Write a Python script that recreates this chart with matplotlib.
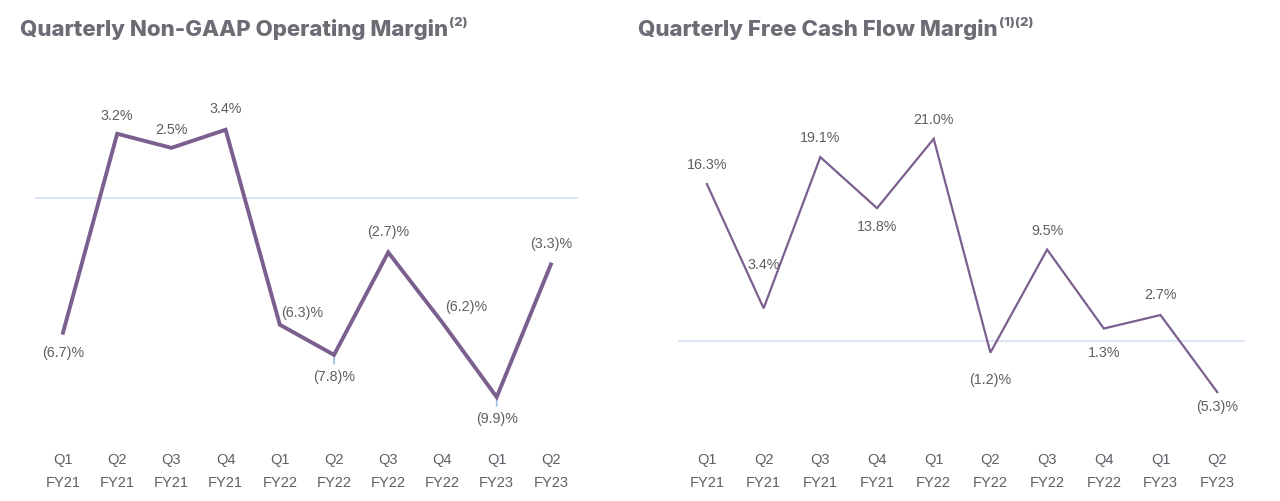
import matplotlib
matplotlib.use("Agg")
import matplotlib.pyplot as plt

quarters = ["Q1\nFY21", "Q2\nFY21", "Q3\nFY21", "Q4\nFY21", "Q1\nFY22",
            "Q2\nFY22", "Q3\nFY22", "Q4\nFY22", "Q1\nFY23", "Q2\nFY23"]
op_margin = [-6.7, 3.2, 2.5, 3.4, -6.3, -7.8, -2.7, -6.2, -9.9, -3.3]
fcf_margin = [16.3, 3.4, 19.1, 13.8, 21.0, -1.2, 9.5, 1.3, 2.7, -5.3]

# label offsets in pixels (dx, dy)
op_offsets = [(0, -20), (0, 18), (0, 18), (0, 21), (22, 12), (0, -22), (0, 20), (24, 16), (0, -22), (0, 20)]
fcf_offsets = [(0, 19), (0, 43), (0, 19), (0, -19), (0, 19), (0, -27), (0, 19), (0, -24), (0, 20), (0, -15)]
# points with a small hover tick below them (left chart)
op_hover = [5, 8]

def fmt(v):
    return f"({abs(v):.1f})%" if v < 0 else f"{v:.1f}%"

W, H = 1280, 501
fig = plt.figure(figsize=(W / 100, H / 100), dpi=100)
fig.patch.set_facecolor("white")

line_col = "#7b5f8f"
zero_col = "#d5e3f6"
hover_col = "#9cc0f0"
txt_col = "#5e5e66"
title_col = "#6c6c75"
label_font = ["Liberation Sans", "DejaVu Sans"]
title_font = ["Inter", "DejaVu Sans"]

def make_axes(px_left, px_right, px_top, px_bottom):
    return fig.add_axes([px_left / W, (H - px_bottom) / H,
                         (px_right - px_left) / W, (px_bottom - px_top) / H])

def draw(ax, vals, offsets, xlim, ylim, lw, ticks, hover=()):
    x = list(range(len(vals)))
    ax.axhline(0, color=zero_col, lw=1.3, zorder=1)
    ax.plot(x, vals, color=line_col, lw=lw, solid_joinstyle="miter", zorder=3)
    for i in hover:
        ax.annotate("", (x[i], vals[i]), xytext=(0, -9), textcoords="offset pixels",
                    arrowprops=dict(arrowstyle="-", color=hover_col, lw=1.2,
                                    shrinkA=0, shrinkB=0), zorder=2)
    for xi, v, (dx, dy) in zip(x, vals, offsets):
        ax.annotate(fmt(v), (xi, v), xytext=(dx, dy), textcoords="offset pixels",
                    ha="center", va="center", fontsize=10.3, color=txt_col, family=label_font)
    ax.set_xlim(*xlim)
    ax.set_ylim(*ylim)
    ax.set_xticks(x)
    ax.set_xticklabels(ticks, fontsize=10.5, color=txt_col, family=label_font, linespacing=1.8)
    ax.tick_params(axis="x", length=0, pad=24)
    ax.set_yticks([])
    for s in ax.spines.values():
        s.set_visible(False)
    ax.patch.set_alpha(0)

ax1 = make_axes(35, 578, 100, 420)
draw(ax1, op_margin, op_offsets, (-0.516, 9.5), (-11.04, 4.88), 2.8, quarters, op_hover)

ax2 = make_axes(678, 1245, 100, 420)
draw(ax2, fcf_margin, fcf_offsets, (-0.51, 9.49), (-8.2, 25.03), 1.6, quarters)

# Titles with superscripts placed right after the title text
fig.canvas.draw()
renderer = fig.canvas.get_renderer()

def title(px_x, text, sup):
    t = fig.text(px_x / W, 1 - 30 / H, text, fontsize=16, fontweight=800,
                 color=title_col, family=title_font, va="center", ha="left")
    bb = t.get_window_extent(renderer=renderer)
    fig.text((bb.x1 + 1) / W, 1 - 23 / H, sup, fontsize=9.5, fontweight=800,
             color=title_col, family=title_font, va="center", ha="left")

title(20, "Quarterly Non-GAAP Operating Margin", "(2)")
title(638, "Quarterly Free Cash Flow Margin", "(1)(2)")

fig.savefig("out.png", dpi=100, facecolor="white")
